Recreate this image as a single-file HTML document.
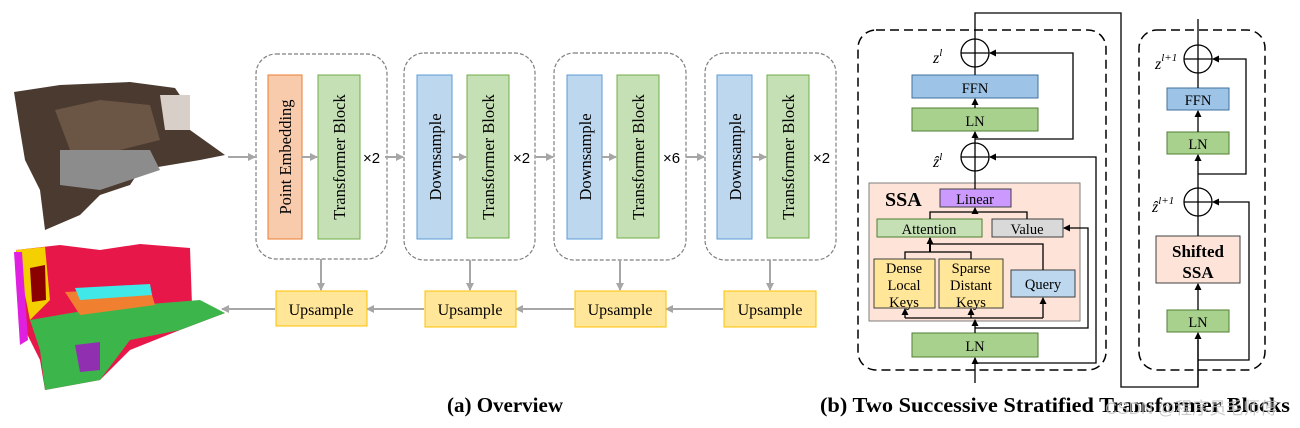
<!DOCTYPE html>
<html><head><meta charset="utf-8"><style>
html,body{margin:0;padding:0;background:#fff;}
svg{display:block;font-family:"Liberation Serif",serif;}
</style></head><body>
<svg width="1300" height="428" viewBox="0 0 1300 428" xmlns="http://www.w3.org/2000/svg">
<defs>
<marker id="ga" markerWidth="8" markerHeight="8" refX="7" refY="4" orient="auto" markerUnits="userSpaceOnUse"><path d="M0,0 L8,4 L0,8 z" fill="#a6a6a6"/></marker>
<marker id="ka" markerWidth="7" markerHeight="7" refX="6" refY="3.5" orient="auto" markerUnits="userSpaceOnUse"><path d="M0,0 L7,3.5 L0,7 z" fill="#000"/></marker>
</defs>
<polygon points="14,92 60,85 130,82 175,88 190,110 190,130 225,155 200,160 140,170 130,185 100,195 80,215 45,230 40,190 25,160 20,130" fill="#4a3a30"/>
<polygon points="55,110 100,100 150,105 160,140 120,150 70,150" fill="#6b5545"/>
<polygon points="60,150 150,150 160,170 100,190 60,185" fill="#8c8c8c"/>
<polygon points="160,95 190,95 190,130 165,130" fill="#d8d0c8"/>
<polygon points="16,250 60,245 100,250 140,244 190,248 192,305 225,313 180,330 130,350 100,380 45,390 40,360 25,330 18,290" fill="#e8174a"/>
<polygon points="16,250 45,247 50,300 30,320" fill="#f5d000"/>
<polygon points="30,268 45,265 46,300 32,302" fill="#8b0000"/>
<polygon points="14,252 22,252 28,340 20,345" fill="#e020e0"/>
<polygon points="30,320 100,308 200,300 225,313 180,330 130,340 100,380 45,390 40,350" fill="#3cb54a"/>
<polygon points="65,292 150,288 155,305 80,315" fill="#f08030"/>
<polygon points="75,288 150,284 152,295 80,300" fill="#40e8e8"/>
<polygon points="75,345 100,342 100,370 80,372" fill="#9030b0"/>
<g fill="none" stroke="#7f7f7f" stroke-dasharray="4,2" stroke-width="1.2">
<rect x="256" y="54" width="131" height="205" rx="20"/>
<rect x="404" y="53" width="131" height="207" rx="20"/>
<rect x="554" y="53" width="132" height="207" rx="20"/>
<rect x="705" y="53" width="131" height="207" rx="20"/>
</g>
<rect x="268" y="75" width="34" height="164" fill="#f8cbad" stroke="#ed7d31"/>
<rect x="318" y="75" width="42" height="164" fill="#c5e0b4" stroke="#70ad47"/>
<rect x="417" y="75" width="35" height="164" fill="#bdd7ee" stroke="#5b9bd5"/>
<rect x="467" y="75" width="42" height="163" fill="#c5e0b4" stroke="#70ad47"/>
<rect x="567" y="75" width="35" height="164" fill="#bdd7ee" stroke="#5b9bd5"/>
<rect x="617" y="75" width="42" height="163" fill="#c5e0b4" stroke="#70ad47"/>
<rect x="717" y="75" width="35" height="164" fill="#bdd7ee" stroke="#5b9bd5"/>
<rect x="767" y="75" width="42" height="163" fill="#c5e0b4" stroke="#70ad47"/>
<g font-size="16.5" fill="#000" text-anchor="middle">
<text transform="translate(291,157) rotate(-90)">Point Embedding</text>
<text transform="translate(345,157) rotate(-90)">Transformer Block</text>
<text transform="translate(441,157) rotate(-90)">Downsample</text>
<text transform="translate(494,157) rotate(-90)">Transformer Block</text>
<text transform="translate(591,157) rotate(-90)">Downsample</text>
<text transform="translate(644,157) rotate(-90)">Transformer Block</text>
<text transform="translate(741,157) rotate(-90)">Downsample</text>
<text transform="translate(794,157) rotate(-90)">Transformer Block</text>
</g>
<g font-family="Liberation Sans,sans-serif" font-size="15" fill="#000">
<text x="363" y="163">×2</text><text x="513" y="163">×2</text><text x="663" y="163">×6</text><text x="813" y="163">×2</text>
</g>
<g stroke="#a6a6a6" stroke-width="2" marker-end="url(#ga)">
<line x1="228" y1="157" x2="255" y2="157"/>
<line x1="302" y1="157" x2="317" y2="157"/>
<line x1="385" y1="157" x2="403" y2="157"/>
<line x1="452" y1="157" x2="466" y2="157"/>
<line x1="535" y1="157" x2="553" y2="157"/>
<line x1="602" y1="157" x2="616" y2="157"/>
<line x1="686" y1="157" x2="704" y2="157"/>
<line x1="752" y1="157" x2="766" y2="157"/>
<line x1="321" y1="259" x2="321" y2="290"/>
<line x1="470" y1="260" x2="470" y2="290"/>
<line x1="620" y1="260" x2="620" y2="290"/>
<line x1="770" y1="260" x2="770" y2="290"/>
<line x1="275" y1="309" x2="222" y2="309"/>
<line x1="424" y1="309" x2="367" y2="309"/>
<line x1="574" y1="309" x2="516" y2="309"/>
<line x1="723" y1="309" x2="666" y2="309"/>
</g>
<g fill="#ffe699" stroke="#ffc000">
<rect x="276" y="291" width="91" height="35"/>
<rect x="425" y="291" width="91" height="36"/>
<rect x="575" y="291" width="91" height="36"/>
<rect x="724" y="291" width="92" height="36"/>
</g>
<g font-size="16" text-anchor="middle">
<text x="321" y="315">Upsample</text><text x="470" y="315">Upsample</text><text x="620" y="315">Upsample</text><text x="770" y="315">Upsample</text>
</g>
<text x="505" y="412" font-size="21" font-weight="bold" text-anchor="middle">(a) Overview</text>
<text x="820" y="412" font-size="21" font-weight="bold" textLength="470" lengthAdjust="spacingAndGlyphs">(b) Two Successive Stratified Transformer Blocks</text>
<g fill="none" stroke="#000" stroke-width="1.5" stroke-dasharray="9,5">
<rect x="858" y="30" width="248" height="340" rx="18"/>
<rect x="1139" y="30" width="126" height="340" rx="18"/>
</g>
<!-- boxes first -->
<rect x="912" y="75" width="126" height="23" fill="#9dc3e6" stroke="#41719c"/>
<rect x="912" y="108" width="126" height="23" fill="#a9d18e" stroke="#507e32"/>
<rect x="869" y="183" width="211" height="138" fill="#fde3d8" stroke="#7f7f7f"/>
<rect x="940" y="189" width="71" height="18" fill="#cc99ff" stroke="#404040"/>
<rect x="877" y="219" width="105" height="18" fill="#c5e0b4" stroke="#507e32"/>
<rect x="992" y="219" width="71" height="18" fill="#d9d9d9" stroke="#404040"/>
<rect x="874" y="259" width="61" height="49" fill="#ffe699" stroke="#404040"/>
<rect x="939" y="259" width="64" height="49" fill="#ffe699" stroke="#404040"/>
<rect x="1011" y="270" width="64" height="27" fill="#bdd7ee" stroke="#404040"/>
<rect x="912" y="333" width="126" height="24" fill="#a9d18e" stroke="#507e32"/>
<rect x="1167" y="88" width="62" height="22" fill="#9dc3e6" stroke="#41719c"/>
<rect x="1167" y="132" width="62" height="22" fill="#a9d18e" stroke="#507e32"/>
<rect x="1156" y="236" width="84" height="47" fill="#fde3d8" stroke="#404040"/>
<rect x="1167" y="310" width="62" height="22" fill="#a9d18e" stroke="#507e32"/>
<g fill="none" stroke="#000" stroke-width="1.3">
<polyline points="975,39 975,13 1121,13 1121,387 1198,387 1198,340"/>
<polyline points="975,139 1073,139 1073,53 990,53" marker-end="url(#ka)"/>
<polyline points="975,363 1096,363 1096,157 990,157" marker-end="url(#ka)"/>
<polyline points="975,328 1088,328 1088,228 1064,228" marker-end="url(#ka)"/>
<line x1="975" y1="383" x2="975" y2="358" marker-end="url(#ka)"/>
<line x1="975" y1="333" x2="975" y2="320" marker-end="url(#ka)"/>
<polyline points="905,318 1043,318"/>
<line x1="905" y1="318" x2="905" y2="309" marker-end="url(#ka)"/>
<line x1="971" y1="318" x2="971" y2="309" marker-end="url(#ka)"/>
<line x1="1043" y1="318" x2="1043" y2="298" marker-end="url(#ka)"/>
<polyline points="905,259 905,252 971,252 971,259"/>
<polyline points="930,252 930,244 1043,244 1043,270"/>
<line x1="930" y1="252" x2="930" y2="238" marker-end="url(#ka)" stroke-width="2"/>
<polyline points="930,219 930,212 1027,212 1027,219"/>
<line x1="975" y1="212" x2="975" y2="208" marker-end="url(#ka)"/>
<line x1="975" y1="189" x2="975" y2="171"/>
<line x1="975" y1="143" x2="975" y2="132" marker-end="url(#ka)"/>
<line x1="975" y1="108" x2="975" y2="99" marker-end="url(#ka)"/>
<line x1="975" y1="75" x2="975" y2="67"/>
<line x1="1198" y1="45" x2="1198" y2="19"/>
<line x1="1198" y1="88" x2="1198" y2="73"/>
<line x1="1198" y1="132" x2="1198" y2="111" marker-end="url(#ka)"/>
<line x1="1198" y1="188" x2="1198" y2="155" marker-end="url(#ka)"/>
<polyline points="1198,174 1246,174 1246,59 1213,59" marker-end="url(#ka)"/>
<line x1="1198" y1="236" x2="1198" y2="216"/>
<line x1="1198" y1="310" x2="1198" y2="284" marker-end="url(#ka)"/>
<line x1="1198" y1="387" x2="1198" y2="333" marker-end="url(#ka)"/>
<polyline points="1198,360 1249,360 1249,202 1213,202" marker-end="url(#ka)"/>
</g>
<g fill="none" stroke="#000" stroke-width="1.3">
<circle cx="975" cy="53" r="14"/><line x1="961" y1="53" x2="989" y2="53"/><line x1="975" y1="39" x2="975" y2="67"/>
<circle cx="975" cy="157" r="14"/><line x1="961" y1="157" x2="989" y2="157"/><line x1="975" y1="143" x2="975" y2="171"/>
<circle cx="1198" cy="59" r="14"/><line x1="1184" y1="59" x2="1212" y2="59"/><line x1="1198" y1="45" x2="1198" y2="73"/>
<circle cx="1198" cy="202" r="14"/><line x1="1184" y1="202" x2="1212" y2="202"/><line x1="1198" y1="188" x2="1198" y2="216"/>
</g>
<g font-size="14.5" text-anchor="middle">
<text x="975" y="93">FFN</text><text x="975" y="126">LN</text><text x="975" y="351">LN</text>
<text x="975" y="204">Linear</text><text x="929" y="234">Attention</text><text x="1027" y="234">Value</text>
<text x="904" y="273">Dense</text><text x="904" y="290">Local</text><text x="904" y="307">Keys</text>
<text x="971" y="273">Sparse</text><text x="971" y="290">Distant</text><text x="971" y="307">Keys</text>
<text x="1043" y="289">Query</text>
<text x="1198" y="105">FFN</text><text x="1198" y="149">LN</text><text x="1198" y="327">LN</text>
</g>
<text x="885" y="206" font-size="20" font-weight="bold">SSA</text>
<text x="1198" y="257" font-size="17" font-weight="bold" text-anchor="middle">Shifted</text>
<text x="1198" y="278" font-size="17" font-weight="bold" text-anchor="middle">SSA</text>
<g font-size="16" font-style="italic">
<text x="933" y="63">z<tspan font-size="11" dy="-7">l</tspan></text>
<text x="933" y="167">ẑ<tspan font-size="11" dy="-7">l</tspan></text>
<text x="1155" y="69">z<tspan font-size="11" dy="-8">l+1</tspan></text>
<text x="1152" y="212">ẑ<tspan font-size="11" dy="-8">l+1</tspan></text>
</g>
<text x="1105" y="414" font-family="Liberation Sans,'Noto Sans CJK SC',sans-serif" font-size="17" fill="#c0c0c0" opacity="0.8">CSDN @程序员毛师傅</text>
</svg>
</body></html>
